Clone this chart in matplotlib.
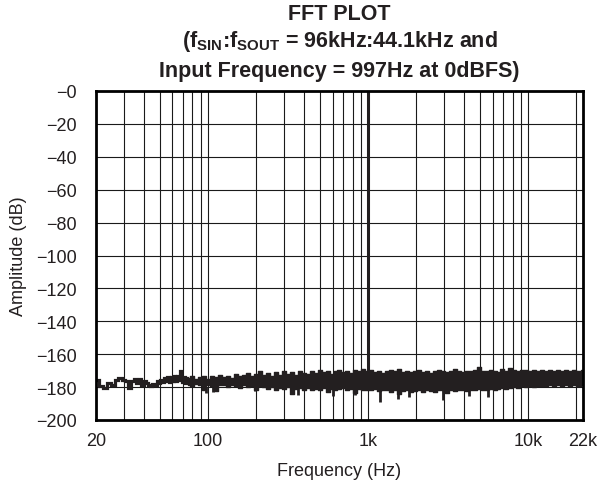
import numpy as np
import matplotlib
matplotlib.use("Agg")
import matplotlib.pyplot as plt
from matplotlib.ticker import FixedLocator, NullFormatter

plt.rcParams['font.family'] = ['Liberation Sans', 'DejaVu Sans']
plt.rcParams['mathtext.fontset'] = 'custom'
plt.rcParams['mathtext.rm'] = 'Liberation Sans'
plt.rcParams['mathtext.bf'] = 'Liberation Sans:bold'

# low-frequency bins (sparse, drawn as a line)
freq_lo = [20.2, 21.5, 22.9, 24.2, 25.6, 26.9, 28.3, 29.6, 31.0, 32.3, 33.6, 35.0,
           36.3, 37.7, 39.0, 40.4, 41.7, 43.1, 44.4, 45.7, 47.1, 48.4, 49.8, 51.1,
           52.5, 53.8, 55.2, 56.5, 57.8, 59.2, 60.5, 61.9, 63.2, 64.6, 65.9, 67.3,
           68.6, 69.9, 71.3, 72.6, 74.0, 75.0]
amp_lo = [-175.5, -179.5, -180.5, -177.5, -178.5, -175.5, -174.5, -175.5, -176, -180.5,
          -176, -175, -177.5, -175, -178.5, -176.5, -177.5, -179, -179.5, -178,
          -179, -176, -177.5, -175.5, -177, -174.5, -176.5, -174, -177, -174, -176,
          -173.5, -176.5, -173, -175.5, -170.5, -175, -177, -174, -177.5, -174.5, -177]

# dense part of the noise floor: upper / lower envelope
env_f = [75, 79, 84, 89, 94, 100, 106, 112, 119, 126,
         133, 141, 149, 158, 167, 177, 188, 199, 211, 223,
         236, 250, 265, 281, 297, 315, 333, 353, 374, 396,
         419, 444, 470, 498, 527, 558, 591, 626, 663, 702,
         743, 787, 833, 882, 934, 989, 1047, 1109, 1174, 1243,
         1316, 1394, 1476, 1563, 1655, 1752, 1855, 1964, 2080, 2202,
         2332, 2469, 2614, 2768, 2931, 3103, 3286, 3479, 3684, 3901,
         4130, 4373, 4630, 4903, 5191, 5497, 5820, 6163, 6525, 6909,
         7316, 7746, 8202, 8685, 9196, 9737, 10310, 10916, 11559, 12239,
         12959, 13722, 14529, 15384, 16289, 17247, 18262, 19336, 20474, 22000]
env_hi = [-174.5, -173.5, -175, -174, -173, -175, -173.5, -174, -172.5, -174,
          -173, -174.5, -172, -173.5, -172.5, -171.5, -173, -172, -170.5, -172.5,
          -171.5, -173, -171, -172.5, -170.5, -172, -171, -172.5, -170, -171.5,
          -172, -170.5, -171.5, -169.5, -171, -170, -172, -170.5, -169.5, -171,
          -170, -171.5, -169.5, -170.5, -169, -170, -169.5, -171, -170, -171.5,
          -170.5, -169.5, -170, -169, -171, -170.5, -171, -170, -169.5, -171,
          -170.5, -171.5, -170, -169.5, -170.5, -171, -170, -169, -170.5, -171,
          -170, -170.5, -169.5, -167.5, -170, -170.5, -169.5, -170, -171, -169,
          -170, -168.5, -169.5, -170, -169.5, -169.5, -170, -169.5, -170, -169.5,
          -170, -169.5, -170, -169.5, -170, -169.5, -170, -169.5, -170, -169.5]
env_lo = [-178.5, -179.5, -178, -179, -182, -179, -179.5, -182.5, -178.5, -179,
          -180, -179, -179.5, -180.5, -179, -180, -179.5, -181.5, -179.5, -180,
          -181, -180, -182, -180.5, -181, -180, -184, -181, -180.5, -181.5,
          -180.5, -182, -181, -181.5, -180.5, -183, -181, -182, -181, -180.5,
          -182, -181, -183.5, -181, -182, -181.5, -182, -181, -182.5, -181.5,
          -182, -183, -182, -184, -182.5, -182, -183, -182.5, -181.5, -183,
          -182, -182.5, -183, -181.5, -182, -183.5, -182, -182.5, -181.5, -182,
          -182.5, -181.5, -182, -181, -182, -181.5, -181, -182, -181, -180.5,
          -181, -180.5, -180, -180.5, -179.5, -180, -179.5, -180, -179.5, -179.5,
          -179.5, -179, -179.5, -179, -179.5, -179, -179.5, -179, -179.5, -179]

# isolated deep bins
spike_f = [97, 107, 196, 365, 601, 828, 1190, 1540, 1800, 2950, 4300, 5600]
spike_db = [-183.5, -183, -182.5, -185, -185.5, -185, -189, -187, -186, -188, -185.5, -186]

tone_f = 997
tone_db = 0

ink = '#231f20'
fig = plt.figure(figsize=(6.01, 4.85), dpi=100)
ax = fig.add_axes([96/601, 64/485, 487/601, 329/485])

ax.plot(freq_lo, amp_lo, color=ink, lw=2.3, drawstyle='steps-mid', solid_joinstyle='miter')
ax.fill_between(env_f, env_lo, env_hi, step='mid', color=ink, lw=1.0, edgecolor=ink)
ax.vlines(spike_f, spike_db, -180, color=ink, lw=2)
ax.vlines([tone_f], -178, tone_db, color=ink, lw=2.2)

ax.set_xscale('log')
ax.set_xlim(20, 22000)
ax.set_ylim(-200, 0)

ax.xaxis.set_major_locator(FixedLocator([20, 100, 1000, 10000, 22000]))
ax.set_xticklabels(['20', '100', '1k', '10k', '22k'])
ax.xaxis.set_minor_locator(FixedLocator([]))
ax.xaxis.set_minor_formatter(NullFormatter())
yt = list(range(-200, 1, 20))
ax.set_yticks(yt)
ax.set_yticklabels(['\u2212' + str(abs(v)) for v in yt])

# grid drawn by hand: every decade step plus 20 dB rows
gx = [30, 40, 50, 60, 70, 80, 90, 100, 200, 300, 400, 500, 600, 700, 800, 900, 1000,
      2000, 3000, 4000, 5000, 6000, 7000, 8000, 9000, 10000, 20000]
for g in gx:
    ax.axvline(g, color='#1a1a1a', lw=0.8, zorder=0)
for g in yt[1:-1]:
    ax.axhline(g, color='#1a1a1a', lw=0.8, zorder=0)

ax.tick_params(length=0, labelsize=13, colors=ink)
ax.tick_params(axis='x', pad=9)
ax.tick_params(axis='y', pad=14)
for s in ax.spines.values():
    s.set_linewidth(2)

ax.set_xlabel('Frequency (Hz)', fontsize=13, color=ink, labelpad=9)
ax.set_ylabel('Amplitude (dB)', fontsize=13, color=ink, labelpad=6)

cx = (96 + 583) / 2 / 601
fs_t = 15.5
fig.text(cx, 1 - 14/485, 'FFT PLOT', ha='center', va='center', fontsize=fs_t, fontweight='bold', color=ink)
fig.text(cx, 1 - 42/485, r'(f$_{\mathbf{SIN}}$:f$_{\mathbf{SOUT}}$ = 96kHz:44.1kHz and',
         ha='center', va='center', fontsize=fs_t, fontweight='bold', color=ink)
fig.text(cx, 1 - 71/485, 'Input Frequency = 997Hz at 0dBFS)', ha='center', va='center',
         fontsize=fs_t, fontweight='bold', color=ink)

fig.savefig('out.png', dpi=100)
